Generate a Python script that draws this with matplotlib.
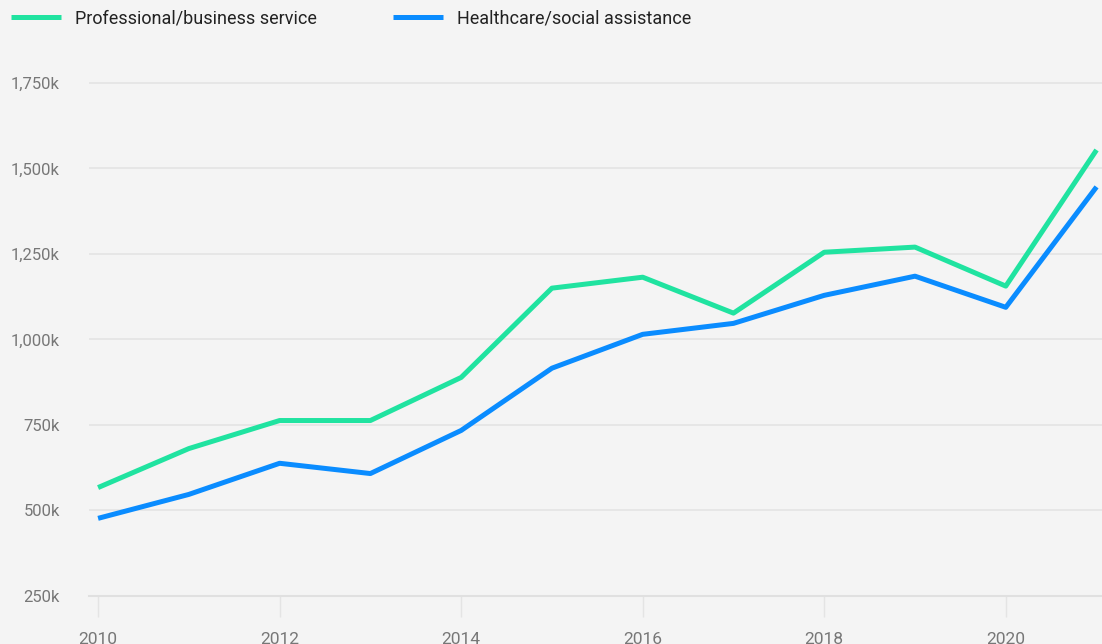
#!/usr/bin/env python3
"""
Job growth by sector, 2010-2021.
"""
import matplotlib
matplotlib.use('Agg')
import matplotlib.pyplot as plt
from matplotlib.ticker import FuncFormatter

# Data (thousands)
years = [2010, 2011, 2012, 2013, 2014, 2015, 2016, 2017, 2018, 2019, 2020, 2021]
professional = [567, 681, 763, 763, 889, 1150, 1182, 1077, 1255, 1270, 1156, 1554]
healthcare = [477, 547, 638, 608, 734, 916, 1015, 1047, 1129, 1185, 1094, 1446]
series_names = ['Professional/business service', 'Healthcare/social assistance']
y_ticks = [250, 500, 750, 1000, 1250, 1500, 1750]
x_ticks = [2010, 2012, 2014, 2016, 2018, 2020]

bg = '#f4f4f4'
green = '#20e3a0'
blue = '#0a8cff'
grid = '#e4e4e4'
label_col = '#777777'

plt.rcParams['font.family'] = ['Roboto', 'DejaVu Sans']

fig = plt.figure(figsize=(11.02, 6.44), dpi=100, facecolor=bg)
ax = fig.add_axes([89 / 1102, 48 / 644, 1 - 89 / 1102, (596 - 60) / 644])
ax.set_facecolor(bg)

ax.plot(years, professional, color=green, lw=3.6, solid_capstyle='butt',
        label=series_names[0], zorder=3)
ax.plot(years, healthcare, color=blue, lw=3.6, solid_capstyle='butt',
        label=series_names[1], zorder=3)

ax.set_xlim(2009.9, 2021.06)
ax.set_ylim(250, 1817)
ax.set_yticks(y_ticks)
ax.set_xticks(x_ticks)
ax.yaxis.set_major_formatter(FuncFormatter(lambda v, p: f'{int(v):,}k'))

ax.grid(axis='y', color=grid, lw=1.2, zorder=0)
for s in ['top', 'right', 'left']:
    ax.spines[s].set_visible(False)
ax.spines['bottom'].set_color('#e0e0e0')
ax.spines['bottom'].set_linewidth(1.5)

ax.tick_params(axis='y', length=0, pad=21, labelsize=12, labelcolor=label_col)
ax.tick_params(axis='x', length=15, width=1, color='#e4e4e4', pad=11,
               labelsize=12.5, labelcolor=label_col)
for t in ax.get_xticklabels():
    t.set_family(['Liberation Sans Narrow', 'Roboto'])

fig.legend(loc='upper left', bbox_to_anchor=(-0.005, 1.011), ncol=2, frameon=False,
           fontsize=13, handlelength=2.8, handletextpad=0.75,
           columnspacing=4.2, labelcolor='#222222')

fig.savefig('out.png', dpi=100, facecolor=bg)
